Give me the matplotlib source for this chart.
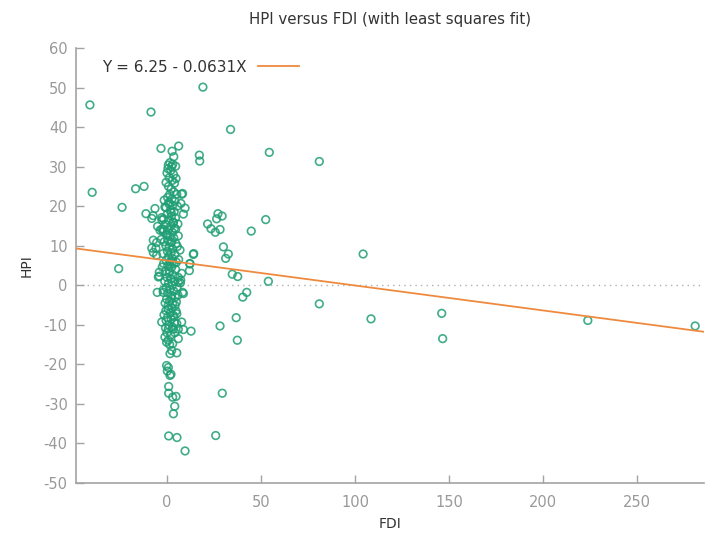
import numpy as np
import matplotlib
matplotlib.use("Agg")
import matplotlib.pyplot as plt

plt.rcParams["axes.unicode_minus"] = False

POINT_COLOR = "#1f9e74"
FIT_COLOR = "#ee8a3f"
AXIS_GRAY = "#a3a3a3"
TEXT_DARK = "#333333"

# least squares fit reported in the key
fit_const = 6.25
fit_slope = -0.0631

# scattered observations (FDI, HPI)
fdi_outer = [-41.0, -39.8, -8.5, 19.1, -3.2, 33.8, 17.2, 17.4, 54.4, 81.0,
             -16.7, -12.2, -23.9, -11.2, -7.4, -6.4, 9.6, 7.8, -25.7, 21.6,
             23.4, 25.7, 28.2, 26.4, 27.1, 29.3, 44.8, 52.5, 30.0, 32.6,
             31.2, 34.7, 37.6, 42.4, 40.3, 36.8, 14.2, 12.1, 11.9, 53.9,
             104.3, 81.0, 108.5, 146.1, 146.6, 223.8, 280.9, 28.2, 37.4, 29.4,
             25.9, 9.6, -8.1, -7.3, -5.5, -5.5, -5.0, -2.8, -2.7, -3.0,
             -4.1, -4.1, -5.2, 8.7, 7.1]
hpi_outer = [45.6, 23.5, 43.8, 50.1, 34.6, 39.4, 32.9, 31.4, 33.6, 31.3,
             24.4, 25.0, 19.7, 18.1, 17.6, 19.4, 19.5, 23.0, 4.2, 15.5,
             14.3, 13.4, 14.1, 16.8, 18.1, 17.5, 13.7, 16.6, 9.7, 7.9,
             6.8, 2.8, 2.2, -1.8, -3.0, -8.2, 8.0, 5.4, 3.7, 1.0,
             7.9, -4.7, -8.5, -7.1, -13.5, -8.9, -10.3, -10.3, -13.9, -27.3,
             -38.0, -41.9, 9.4, 8.3, 7.6, 10.8, 14.9, 14.2, 16.5, 11.6,
             3.3, 2.3, -1.8, -2.1, 0.6]

# the dense column near FDI = 0
fdi_core = [6.2, 2.7, 3.6, 0.7, 2.5, 4.6, 8.3, 7.4, -1.1, 8.7,
            -2.8, -8.1, -3.7, -2.0, 4.6, -7.3, -5.9, 6.9, 14.0, 12.2,
            -4.6, 7.8, 7.3, 6.0, 8.3, -2.0, 4.3, 5.2, -2.8, -0.5,
            7.8, 5.2, 0.7, 3.4, 6.0, 8.7, 12.8, -1.1, 0.7, -0.2,
            6.0, 2.5, 1.6, 5.2, -0.2, 0.7, 0.2, 1.6, 2.1, 0.9,
            0.9, 3.0, 4.8, 4.1, 3.4, 0.9, 5.3,
            0.5, 2.0, 3.5, 1.2, 2.8, 4.0, 0.8, 2.2, 3.6, 1.5,
            0.3, 2.6, 4.2, 1.0, 3.0, -0.5, 1.8, 3.8, 0.2, 2.4,
            4.5, 1.0, 3.2, -0.8, 2.0, 4.0, 0.6, 2.8, -0.2, 1.6,
            3.6, 0.4, 2.4, 4.8, -0.6, 1.2, 3.0, 0.2, 2.2, 4.2,
            0.8, 2.8, -0.4, 1.6, 3.6, 0.4, 2.4, 4.6, -0.8, 1.2,
            3.2, 0.0, 2.0, 4.0, 0.8, 2.8, -0.4, 1.6, 3.6, 0.4,
            2.4, 4.4, -0.2, 1.4, 3.0, 0.6, 2.6, -0.6, 1.8, 3.4,
            0.2, 2.2, 4.0, 1.0, 3.0, 0.0, 2.0, 1.4, 3.0,
            1.5, 3.0, 0.0, 4.8, -0.5, 5.2, -1.5, 5.5, -1.8, 5.8,
            -2.0, 6.0, -1.5, 5.5, -2.2, 6.2, -1.8, 5.0, -2.5, 6.0,
            -1.2, 5.4, -2.0, 5.8, -1.0, 5.0, -1.6, 4.8, -0.8, 4.2,
            1.0, 2.2, 3.4, 0.4, 1.8, 2.9, 1.3, 2.5, 0.6, 3.8]
hpi_core = [35.2, 33.9, 32.5, 30.4, 30.0, 30.1, 23.2, 20.7, 19.8, 18.0,
            17.1, 16.9, 13.9, 14.2, 14.2, 11.4, 9.3, 8.9, 7.8, 5.5,
            2.1, 3.0, 1.3, 0.8, -1.8, -1.8, -5.1, -7.2, -9.3, -8.9,
            -9.3, -9.7, -11.0, -11.1, -11.1, -11.2, -11.6, -13.1, -13.9, -14.4,
            -13.5, -16.5, -17.3, -17.1, -20.3, -20.8, -21.7, -22.8, -22.5, -25.6,
            -27.3, -28.3, -28.1, -30.6, -32.5, -38.1, -38.5,
            29.5, 29.0, 28.0, 27.2, 26.5, 25.8, 25.0, 24.3, 23.6, 23.0,
            22.2, 21.8, 21.2, 20.6, 20.2, 19.6, 19.0, 18.6, 18.0, 17.5,
            17.0, 16.4, 16.0, 15.4, 15.0, 14.5, 14.0, 13.4, 12.8, 12.3,
            12.0, 11.4, 11.0, 10.5, 10.0, 9.6, 9.2, 8.6, 8.2, 7.8,
            7.2, 6.8, 6.3, 5.9, 5.4, 5.0, 4.5, 4.0, 3.5, 3.0,
            2.6, 2.0, 1.6, 1.0, 0.5, 0.0, -0.6, -1.0, -1.5, -2.0,
            -2.6, -3.0, -3.5, -4.0, -4.6, -5.2, -5.8, -6.4, -7.0, -7.6,
            -8.2, -8.6, -9.5, -10.0, -10.6, -12.0, -12.6, -15.0, -14.8,
            31.0, 30.6, 28.4, 27.0, 26.0, 23.0, 21.5, 20.0, 16.8, 15.5,
            13.6, 12.5, 11.0, 9.8, 8.0, 6.5, 5.5, 5.8, 4.6, 2.0,
            1.0, -0.5, -1.2, -2.5, -4.5, -4.2, -7.5, -6.5, -10.8, -12.0,
            21.0, 18.4, 15.8, 12.9, 10.8, 6.0, 3.6, -3.2, -6.0, -8.0]

fdi = np.array(fdi_outer + fdi_core)
hpi = np.array(hpi_outer + hpi_core)

x_min, x_max = -48.4, 285.6
y_ticks = np.arange(-50, 61, 10)
x_ticks = [0, 50, 100, 150, 200, 250]

fig = plt.figure(figsize=(7.05, 5.36), dpi=100)
ax = fig.add_axes([0.1078, 0.0989, 0.8908, 0.8116])

ax.axhline(0, color="#b0b0b0", lw=1.0, ls=(0, (1, 3)), zorder=1)
ax.scatter(fdi, hpi, s=30, facecolors="none", edgecolors=POINT_COLOR,
           linewidths=1.2, alpha=0.85, zorder=2)

xs = np.array([x_min, x_max])
ax.plot(xs, fit_const + fit_slope * xs, color=FIT_COLOR, lw=1.3, zorder=3,
        label=f"Y = {fit_const:.2f} - {abs(fit_slope):.4f}X")

ax.set_xlim(x_min, x_max)
ax.set_ylim(-50, 60)
ax.set_xticks(x_ticks)
ax.set_yticks(y_ticks)

for side in ("top", "right"):
    ax.spines[side].set_visible(False)
for side in ("left", "bottom"):
    ax.spines[side].set_color(AXIS_GRAY)
    ax.spines[side].set_linewidth(1.2)

ax.tick_params(axis="both", direction="in", length=6, width=1.0,
               color=AXIS_GRAY, labelcolor="#999999", labelsize=10.5)
ax.tick_params(axis="x", pad=9)
ax.tick_params(axis="y", pad=6)

ax.set_xlabel("FDI", fontsize=10, color=TEXT_DARK, labelpad=5)
ax.set_ylabel("HPI", fontsize=10, color=TEXT_DARK, labelpad=7)
ax.set_title("HPI versus FDI (with least squares fit)", fontsize=10.8,
             color=TEXT_DARK, pad=17)

leg = ax.legend(loc="upper left", bbox_to_anchor=(0.02, 1.005), frameon=False,
                markerfirst=False, handlelength=2.7, handletextpad=0.7,
                fontsize=11)
for t in leg.get_texts():
    t.set_color(TEXT_DARK)

fig.savefig("out.png", dpi=100)
